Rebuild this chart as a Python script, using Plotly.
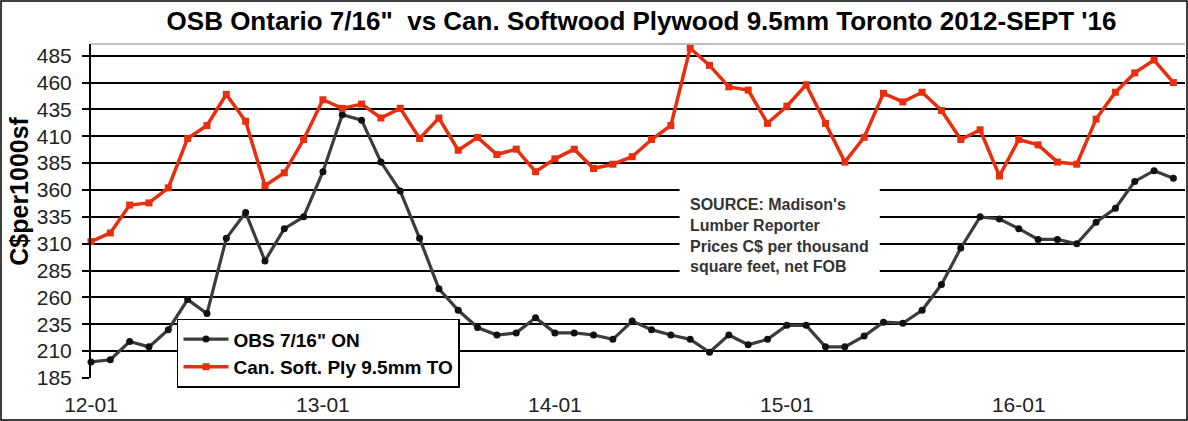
import plotly.graph_objects as go

# ---- data ----
months = [f"{yr:02d}-{m:02d}" for yr in range(12, 17) for m in range(1, 13)][:57]
tick_labels = ["12-01", "13-01", "14-01", "15-01", "16-01"]

osb_on = [200, 202, 219, 214, 230, 258, 245, 315, 339, 294, 324, 335, 377, 430, 425,
          386, 359, 315, 268, 248, 232, 225, 227, 241, 227, 227, 225, 221, 238, 230,
          225, 221, 209, 225, 216, 221, 234, 234, 214, 214, 224, 237, 236, 248, 272,
          306, 335, 333, 324, 314, 314, 310, 330, 343, 368, 378, 371]
ply_to = [312, 320, 346, 348, 362, 408, 420, 449, 424, 364, 376, 407, 444, 436, 440,
          427, 436, 408, 427, 397, 409, 393, 398, 377, 389, 398, 380, 384, 391, 407,
          420, 492, 476, 456, 453, 422, 438, 458, 422, 386, 409, 450, 442, 451, 434,
          407, 416, 373, 407, 402, 386, 384, 426, 451, 469, 481, 460]
y_ticks = list(range(185, 486, 25))

idx = list(range(len(months)))
tick_pos = [months.index(t) for t in tick_labels]

FONT = "Arial, Liberation Sans, sans-serif"
RED = "#E82E0C"

fig = go.Figure()
fig.add_trace(go.Scatter(
    x=idx, y=osb_on, name='OBS 7/16" ON', mode="lines+markers",
    line=dict(color="#3c3c3c", width=3.2),
    marker=dict(symbol="circle", size=7, color="#111111"),
    cliponaxis=False,
))
fig.add_trace(go.Scatter(
    x=idx, y=ply_to, name="Can. Soft. Ply 9.5mm TO", mode="lines+markers",
    line=dict(color=RED, width=3.5),
    marker=dict(symbol="square", size=7, color=RED),
    cliponaxis=False,
))

fig.update_layout(
    width=1188, height=421,
    margin=dict(l=91, r=3, t=44, b=43),
    paper_bgcolor="white", plot_bgcolor="white",
    font=dict(family=FONT, color="black"),
    showlegend=True,
    title=dict(
        text="OSB Ontario 7/16\"  vs Can. Softwood Plywood 9.5mm Toronto 2012-SEPT '16",
        x=0.54, xanchor="center", y=0.95, yanchor="middle",
        font=dict(size=26, family=FONT, color="black", weight="bold"),
    ),
    legend=dict(
        x=0.0786, y=0.1774, xanchor="left", yanchor="top",
        bgcolor="white", bordercolor="black", borderwidth=1.5,
        font=dict(size=19, family=FONT, color="black", weight="bold"),
        tracegroupgap=0, itemwidth=45,
    ),
    xaxis=dict(
        range=[0, 56.6], tickmode="array", tickvals=tick_pos, ticktext=tick_labels,
        showgrid=False, zeroline=False, showline=False, ticks="",
        tickfont=dict(size=21, family=FONT, color="#222"),
        ticklabelstandoff=12,
    ),
    yaxis=dict(
        range=[185, 495.9], tickmode="array", tickvals=y_ticks,
        showgrid=True, gridcolor="black", gridwidth=2,
        zeroline=False, showline=True, linecolor="black", linewidth=2,
        ticks="outside", ticklen=7, tickwidth=2, tickcolor="black",
        tickfont=dict(size=21, family=FONT, color="#222"),
        ticklabelstandoff=6,
    ),
    shapes=[
        # plot area top border
        dict(type="line", xref="paper", yref="paper", x0=0, x1=1, y0=1, y1=1,
             line=dict(color="#aaaaaa", width=1.5)),
        # source text box background
        dict(type="rect", xref="paper", yref="paper", x0=0.538, x1=0.721,
             y0=0.285, y1=0.623, fillcolor="white", line=dict(width=0), layer="above"),
        # outer frame
        dict(type="rect", xref="paper", yref="paper", x0=-90/1094, x1=1+2/1094,
             y0=-42/334, y1=1+43/334, line=dict(color="black", width=1.5)),
    ],
    annotations=[
        dict(text="C$per1000sf", textangle=-90, xref="paper", yref="paper",
             x=-0.066, y=0.56, xanchor="center", yanchor="middle", showarrow=False,
             font=dict(size=25, family=FONT, color="black", weight="bold")),
        dict(text="SOURCE: Madison's<br>Lumber Reporter<br>Prices C$ per thousand<br>square feet, net FOB",
             xref="paper", yref="paper", x=0.546, y=0.4257, xanchor="left", yanchor="middle",
             align="left", showarrow=False,
             font=dict(size=16, family=FONT, color="#333333", weight="bold")),
    ],
)

fig.write_html(
    "out.html",
    config={"displayModeBar": False},
    post_script="document.body.style.margin='0';document.body.style.overflow='hidden';",
)
